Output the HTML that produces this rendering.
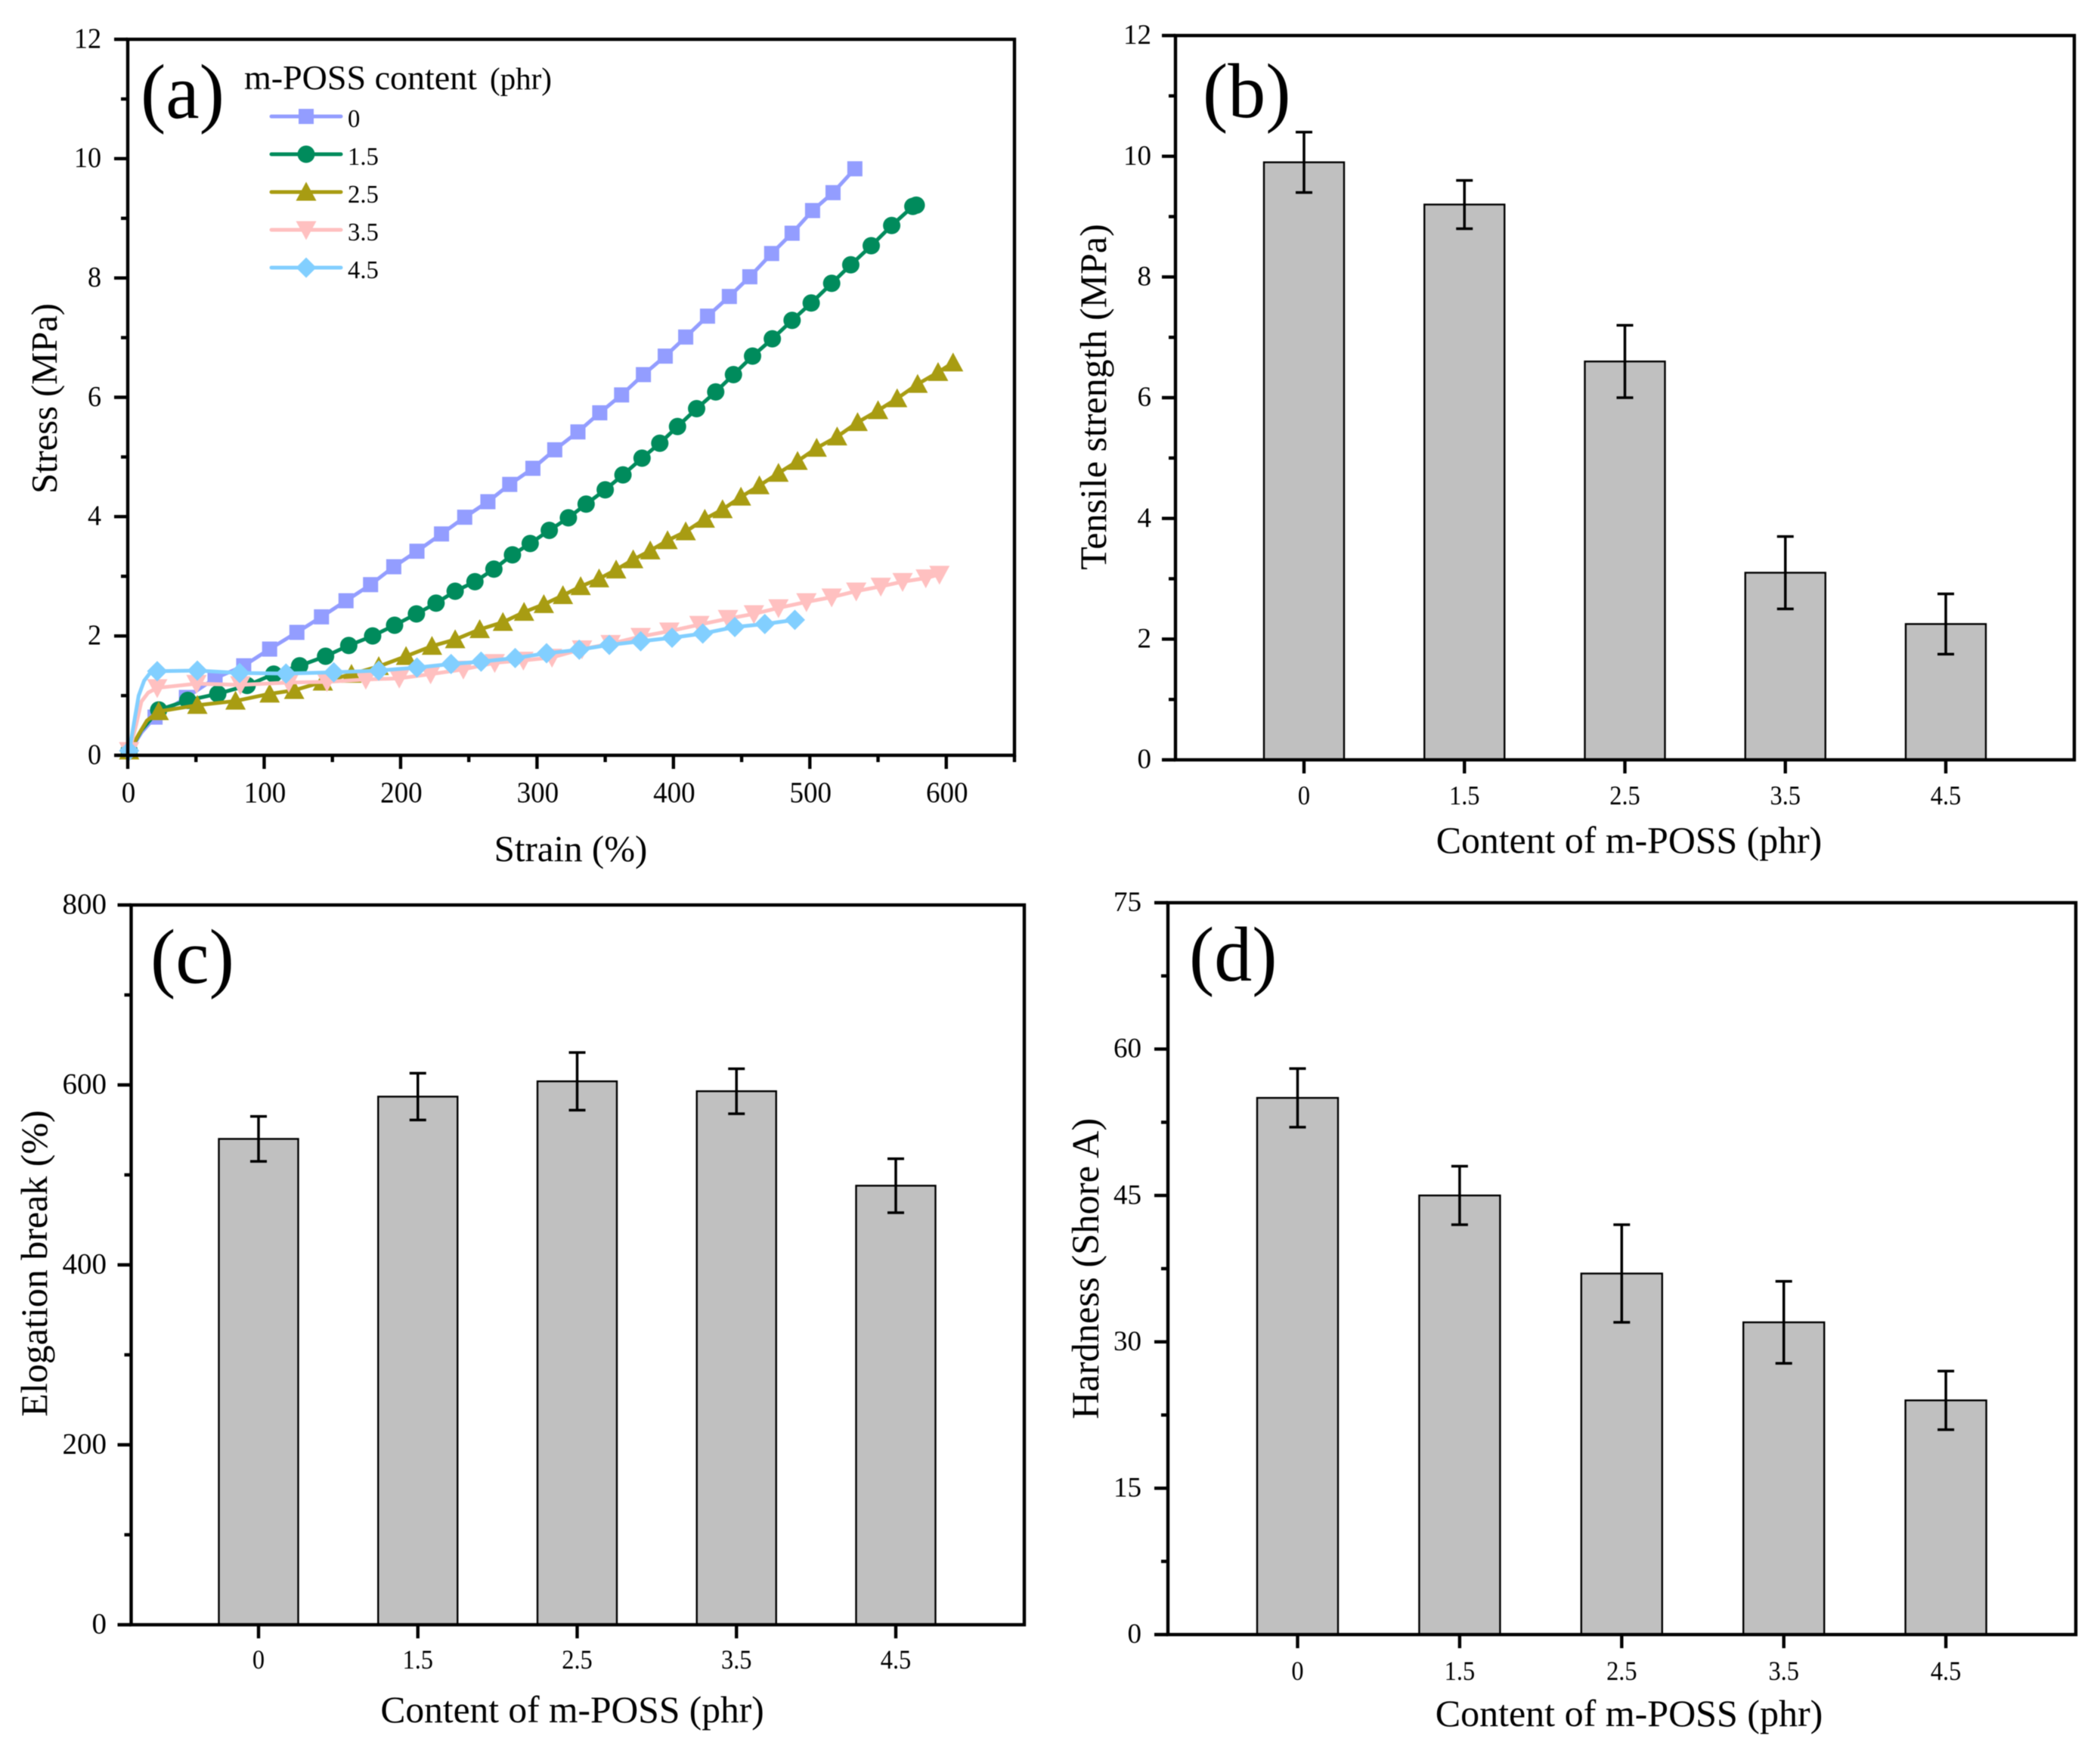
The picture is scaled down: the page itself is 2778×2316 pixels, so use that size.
<!DOCTYPE html>
<html lang="en">
<head>
<meta charset="utf-8">
<title>Mechanical properties versus m-POSS content</title>
<style>
html,body{margin:0;padding:0;background:#fff;width:2778px;height:2316px;overflow:hidden}
svg{display:block;filter:blur(0.6px)}
text{font-family:"Liberation Serif","Times New Roman",serif;fill:#000}
</style>
</head>
<body>
<svg id="figure" xmlns="http://www.w3.org/2000/svg" width="2778" height="2316" viewBox="0 0 2778 2316"></svg>
<script>
// ---------- Panel (a): stress-strain series (markers) ----------
const seriesNames = ['0', '1.5', '2.5', '3.5', '4.5'];
const strain0 = [20,43,64,85,104,124,142,160,178,195,212,230,247,264,280,297,313,330,346,362,378,394,409,425,441,456,472,487,502,517,533];
const stress0 = [0.64,0.97,1.29,1.5,1.78,2.06,2.32,2.59,2.86,3.16,3.42,3.71,3.99,4.25,4.54,4.81,5.12,5.42,5.74,6.04,6.38,6.69,7.01,7.36,7.69,8.02,8.41,8.75,9.13,9.43,9.83];
const strain15 = [22.7,44,66,87.5,107,126,145,162,179.5,195.6,211.6,226,240,254.5,268.4,282,295,309,323,336,350,363,377,390,403,417,431,444,458,472.5,487,501,516,530,545,560,575.5,578];
const stress15 = [0.76,0.92,1.03,1.17,1.36,1.5,1.66,1.84,2,2.18,2.37,2.55,2.75,2.91,3.12,3.36,3.55,3.77,3.98,4.21,4.45,4.7,4.98,5.23,5.51,5.81,6.09,6.38,6.69,6.98,7.29,7.58,7.91,8.22,8.54,8.88,9.2,9.22];
const strain25 = [22.7,51,79,104,122,143,164,184,204,223,240,258,275,290.5,305,319,332,345.5,358,370.5,383,395.7,409,423,436,449.5,463,477,491,505,520,535,550,564,579,594,605];
const stress25 = [0.735,0.84,0.91,1.03,1.09,1.23,1.36,1.49,1.66,1.83,1.94,2.11,2.23,2.4,2.53,2.68,2.83,2.96,3.11,3.28,3.43,3.6,3.75,3.96,4.12,4.33,4.52,4.73,4.93,5.15,5.34,5.58,5.78,5.98,6.22,6.42,6.58];
const strain35 = [21.6,50.4,82.5,118,146,174.5,199,222,246,269,290,311,333,354,376,397,419,440,459,477,497.5,516,534,552,568,585,595];
const stress35 = [1.13,1.2,1.18,1.22,1.23,1.27,1.29,1.36,1.44,1.55,1.59,1.64,1.78,1.87,1.99,2.08,2.19,2.29,2.37,2.47,2.57,2.65,2.75,2.83,2.91,2.97,3.03];
const strain45 = [21.6,51,82,116,151,184,212,237,259,284,307,331,353,376,399,421.5,445,467,489];
const stress45 = [1.41,1.42,1.38,1.37,1.39,1.42,1.47,1.53,1.57,1.63,1.71,1.77,1.85,1.91,1.97,2.04,2.15,2.2,2.27];
// unmarked points of the initial elastic rise
const riseStrain0 = [1,10];
const riseStress0 = [0.05,0.38];
const riseStrain15 = [1,10];
const riseStress15 = [0.05,0.42];
const riseStrain25 = [1,8,14];
const riseStress25 = [0.05,0.35,0.58];
const riseStrain35 = [1,6,10,15];
const riseStress35 = [0.05,0.5,0.9,1.05];
const riseStrain45 = [1,5,8,12,16];
const riseStress45 = [0.05,0.6,1.0,1.25,1.37];

// ---------- Panels (b)(c)(d): bar values ----------
const categories = ['0', '1.5', '2.5', '3.5', '4.5'];
const tensileValues = [9.9, 9.2, 6.6, 3.1, 2.25];
const tensileErrors = [0.5, 0.4, 0.6, 0.6, 0.5];
const elongationValues = [540, 587, 604, 593, 488];
const elongationErrors = [25, 26, 32, 25, 30];
const hardnessValues = [55, 45, 37, 32, 24];
const hardnessErrors = [3, 3, 5, 4.2, 3];

// ---------- Tick labels ----------
const stressTicks = [0, 2, 4, 6, 8, 10, 12];
const strainTicks = [0, 100, 200, 300, 400, 500, 600];
const tensileTicks = [0, 2, 4, 6, 8, 10, 12];
const elongationTicks = [0, 200, 400, 600, 800];
const hardnessTicks = [0, 15, 30, 45, 60, 75];

const NS = 'http://www.w3.org/2000/svg';
const svg = document.getElementById('figure');

function make(parent, tag, attrs) {
  const el = document.createElementNS(NS, tag);
  for (const k in attrs) el.setAttribute(k, attrs[k]);
  parent.appendChild(el);
  return el;
}
function makeText(parent, str, x, y, size, anchor, rot, sx) {
  const el = make(parent, 'text', {
    'font-size': size,
    'text-anchor': anchor,
    transform: 'translate(' + x + ' ' + y + ') scale(' + (sx || 1) + ' 1) rotate(' + (rot || 0) + ')'
  });
  el.textContent = str;
  return el;
}
function linear(d0, d1, r0, r1) {
  return function (v) { return r0 + (v - d0) * (r1 - r0) / (d1 - d0); };
}
const AXIS_W = 4.4, MAJOR = 18, MINOR = 9;

function drawFrame(g, key, box) {
  const frame = make(g, 'rect', {x: box.l, y: box.t, width: box.r - box.l, height: box.b - box.t, fill: 'none', stroke: '#000', 'stroke-width': AXIS_W});
  
  
}
function drawYAxis(g, key, box, yScale, ticks, minorStep, labelRight, labelSize, labelSx) {
  const top = ticks[ticks.length - 1];
  for (let v = ticks[0]; v <= top + 1e-9; v += minorStep) {
    const isMajor = ticks.some(function (t) { return Math.abs(t - v) < 1e-9; });
    const len = isMajor ? MAJOR : MINOR;
    const tick = make(g, 'line', {x1: box.l - len, x2: box.l, y1: yScale(v), y2: yScale(v), stroke: '#000', 'stroke-width': AXIS_W});
    
    
  }
  ticks.forEach(function (t) {
    const label = makeText(g, String(t), labelRight, yScale(t) + labelSize * 0.3, labelSize, 'end', 0, labelSx);
    
    
  });
}
function drawBarPanel(cfg) {
  const g = make(svg, 'g', {});
  
  
  const box = cfg.box;
  const yScale = linear(0, cfg.yMax, box.b, box.t);
  const xScale = linear(0, 1, cfg.c0, cfg.c0 + cfg.step);

  cfg.values.forEach(function (v, i) {
    const bar = make(g, 'rect', {x: xScale(i) - cfg.barW / 2, y: yScale(v), width: cfg.barW, height: yScale(0) - yScale(v), fill: '#c0c0c0', stroke: '#000', 'stroke-width': 2.4});
    
    
  });
  cfg.values.forEach(function (v, i) {
    const e = cfg.errors[i], cx = xScale(i);
    const stem = make(g, 'line', {x1: cx, x2: cx, y1: yScale(v + e), y2: yScale(v - e), stroke: '#000', 'stroke-width': 3.5});
    
    
    [v + e, v - e].forEach(function (c) {
      const cap = make(g, 'line', {x1: cx - 11, x2: cx + 11, y1: yScale(c), y2: yScale(c), stroke: '#000', 'stroke-width': 3.5});
      
      
    });
  });
  drawFrame(g, cfg.key, box);
  drawYAxis(g, cfg.key, box, yScale, cfg.ticks, cfg.minorStep, cfg.yLabelRight, cfg.yLabelSize, 1);
  categories.forEach(function (c, i) {
    const tick = make(g, 'line', {x1: xScale(i), x2: xScale(i), y1: box.b, y2: box.b + MAJOR, stroke: '#000', 'stroke-width': AXIS_W});
    
    
    const label = makeText(g, c, xScale(i), cfg.xLabelY, 36, 'middle', 0, 0.9);
    
    
  });
  const xTitle = makeText(g, 'Content of m-POSS (phr)', cfg.xTitleX, cfg.xTitleY, cfg.xTitleSize, 'middle', 0, 1);
  
  
  const yTitle = makeText(g, cfg.yTitle, cfg.yTitleX, cfg.yTitleY, cfg.yTitleSize, 'middle', -90, 1);
  
  
  const tag = makeText(g, cfg.tag, cfg.tagX, cfg.tagY, 103, 'start', 0, 0.97);
  
  
}

// ---------- Panel (a) ----------
const lineColors = ['#939dff', '#008b5c', '#a89c12', '#ffc0c0', '#82cfff'];
const markerShapes = ['square', 'circle', 'up', 'down', 'diamond'];

function drawMarker(parent, shape, cx, cy, color) {
  if (shape === 'square') return make(parent, 'rect', {x: cx - 10, y: cy - 10, width: 20, height: 20, fill: color});
  if (shape === 'circle') return make(parent, 'circle', {cx: cx, cy: cy, r: 11.5, fill: color});
  let pts;
  if (shape === 'up') pts = [[cx, cy - 13.5], [cx + 13.5, cy + 11.5], [cx - 13.5, cy + 11.5]];
  else if (shape === 'down') pts = [[cx, cy + 13.5], [cx + 13.5, cy - 11.5], [cx - 13.5, cy - 11.5]];
  else pts = [[cx, cy - 13.5], [cx + 13.5, cy], [cx, cy + 13.5], [cx - 13.5, cy]];
  return make(parent, 'polygon', {points: pts.map(function (p) { return p.join(','); }).join(' '), fill: color});
}

function drawStressPanel() {
  const g = make(svg, 'g', {});
  
  
  const box = {l: 169, r: 1342, t: 52, b: 999};
  const xScale = linear(0, 650, box.l, box.r);
  const yScale = linear(0, 12, box.b, box.t);

  const xData = [strain0, strain15, strain25, strain35, strain45];
  const yData = [stress0, stress15, stress25, stress35, stress45];
  const riseX = [riseStrain0, riseStrain15, riseStrain25, riseStrain35, riseStrain45];
  const riseY = [riseStress0, riseStress15, riseStress25, riseStress35, riseStress45];

  seriesNames.forEach(function (name, s) {
    const sg = make(g, 'g', {});
    
    
    const xs = riseX[s].concat(xData[s]);
    const ys = riseY[s].concat(yData[s]);
    const pts = xs.map(function (x, i) { return xScale(x) + ',' + yScale(ys[i]); }).join(' ');
    const line = make(sg, 'polyline', {points: pts, fill: 'none', stroke: lineColors[s], 'stroke-width': 5, 'stroke-linejoin': 'round', 'stroke-linecap': 'round'});
    
    
    const origin = drawMarker(sg, markerShapes[s], xScale(riseX[s][0]), yScale(riseY[s][0]) - 2, lineColors[s]);
    
    
    xData[s].forEach(function (x, i) {
      const m = drawMarker(sg, markerShapes[s], xScale(x), yScale(yData[s][i]), lineColors[s]);
      
      
    });
  });

  drawFrame(g, 'panel-a', box);
  drawYAxis(g, 'panel-a', box, yScale, stressTicks, 1, 134, 38, 0.95);
  for (let v = 0; v <= 650; v += 50) {
    const len = v % 100 === 0 ? MAJOR : MINOR;
    const tick = make(g, 'line', {x1: xScale(v), x2: xScale(v), y1: box.b, y2: box.b + len, stroke: '#000', 'stroke-width': AXIS_W});
    
    
  }
  strainTicks.forEach(function (t) {
    const label = makeText(g, String(t), xScale(t) + 1, 1061, 39, 'middle', 0, 0.95);
    
    
  });
  const xTitle = makeText(g, 'Strain (%)', 755, 1139, 49, 'middle', 0, 1);
  
  
  const yTitle = makeText(g, 'Stress (MPa)', 75, 527, 48.5, 'middle', -90, 1);
  
  
  const tag = makeText(g, '(a)', 186, 156, 103, 'start', 0, 0.97);
  
  

  const legend = make(g, 'g', {});
  
  
  const legendTitle = makeText(legend, 'm-POSS content', 323, 118, 46, 'start', 0, 1);
  
  
  const legendUnit = makeText(legend, '(phr)', 648, 118, 41, 'start', 0, 1);
  
  
  seriesNames.forEach(function (name, s) {
    const ly = 154 + s * 50;
    const entry = make(legend, 'g', {});
    
    
    const l = make(entry, 'line', {x1: 359, x2: 451, y1: ly, y2: ly, stroke: lineColors[s], 'stroke-width': 5, 'stroke-linecap': 'round'});
    
    
    const m = drawMarker(entry, markerShapes[s], 405, ly, lineColors[s]);
    
    
    const t = makeText(entry, name, 460, ly + 14, 34, 'start', 0, 0.96);
    
    
  });
}

drawStressPanel();
drawBarPanel({
  key: 'panel-b', tag: '(b)', tagX: 1591, tagY: 155,
  box: {l: 1555, r: 2744, t: 47, b: 1005},
  values: tensileValues, errors: tensileErrors, yMax: 12, ticks: tensileTicks, minorStep: 1,
  c0: 1725, step: 212.25, barW: 106,
  yLabelRight: 1523, yLabelSize: 37, xLabelY: 1064,
  xTitleX: 2155, xTitleY: 1128, xTitleSize: 49.8, yTitle: 'Tensile strength (MPa)', yTitleX: 1463, yTitleY: 525, yTitleSize: 50
});
drawBarPanel({
  key: 'panel-c', tag: '(c)', tagX: 199, tagY: 1300,
  box: {l: 173.5, r: 1355, t: 1197, b: 2149},
  values: elongationValues, errors: elongationErrors, yMax: 800, ticks: elongationTicks, minorStep: 100,
  c0: 342, step: 210.75, barW: 105,
  yLabelRight: 141, yLabelSize: 39, xLabelY: 2207,
  xTitleX: 757, xTitleY: 2278, xTitleSize: 49.5, yTitle: 'Elogation break (%)', yTitleX: 62, yTitleY: 1671, yTitleSize: 50
});
drawBarPanel({
  key: 'panel-d', tag: '(d)', tagX: 1573, tagY: 1297,
  box: {l: 1545, r: 2746, t: 1194, b: 2162},
  values: hardnessValues, errors: hardnessErrors, yMax: 75, ticks: hardnessTicks, minorStep: 7.5,
  c0: 1716.5, step: 214.4, barW: 107,
  yLabelRight: 1510, yLabelSize: 37, xLabelY: 2222,
  xTitleX: 2155, xTitleY: 2283, xTitleSize: 50, yTitle: 'Hardness (Shore A)', yTitleX: 1453, yTitleY: 1678, yTitleSize: 50.5
});
</script>
</body>
</html>
